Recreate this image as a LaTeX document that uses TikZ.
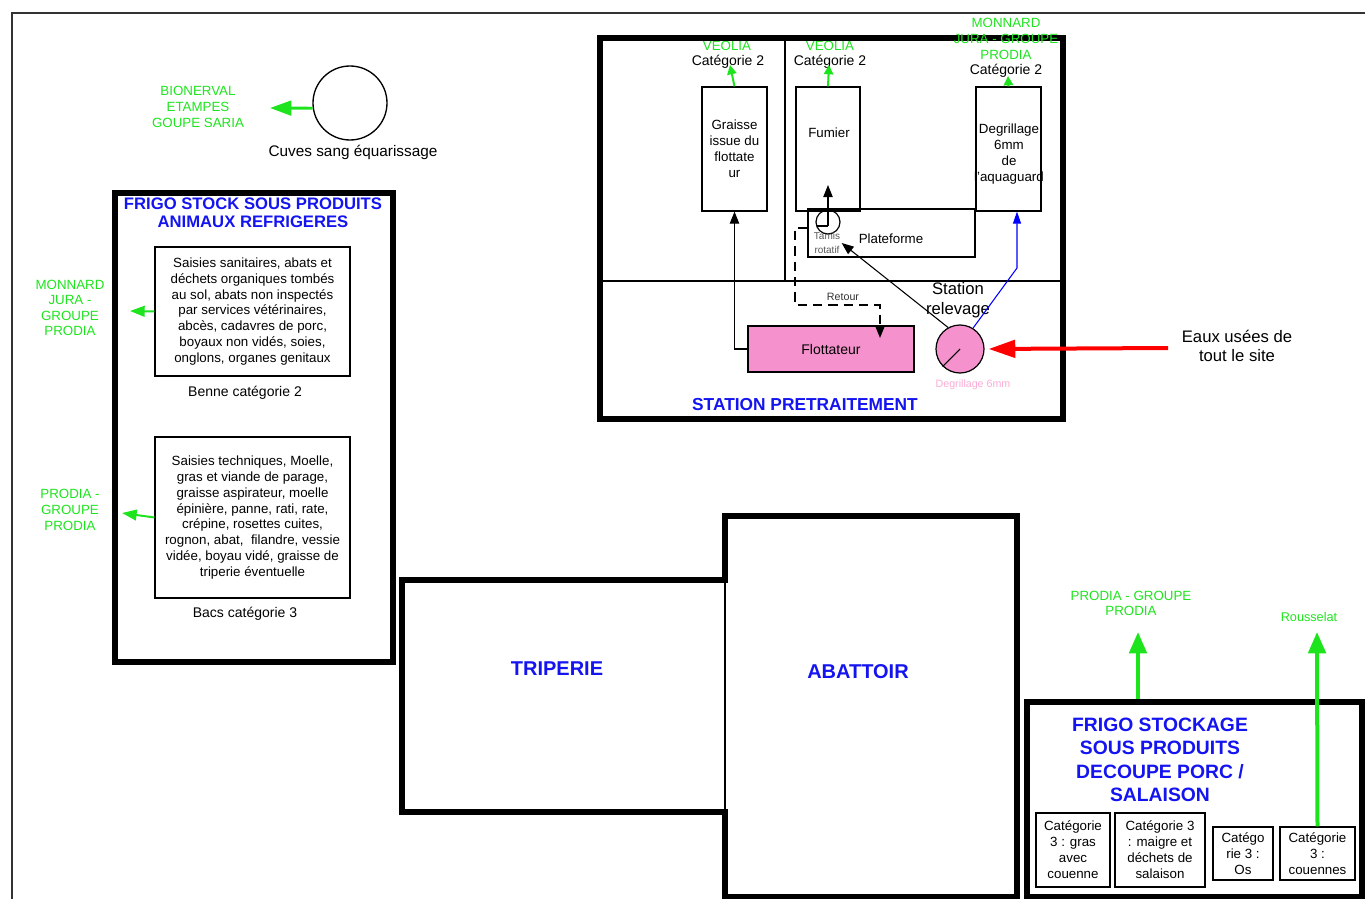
\documentclass[tikz,border=0pt]{standalone}
\usepackage{fontspec}
\setmainfont{Liberation Sans}
\usetikzlibrary{fit,arrows.meta}
\definecolor{grn}{RGB}{30,228,30}
\definecolor{pinkf}{RGB}{245,145,205}
\definecolor{pinkt}{RGB}{250,170,212}
\definecolor{ttl}{RGB}{20,20,240}
\begin{document}
\begin{tikzpicture}[x=0.75pt,y=-0.75pt,
  wall/.style={line width=3.8pt, line cap=rect, line join=miter},
  wallbox/.style={draw, line width=3.8pt, inner sep=0pt},
  tbox/.style={draw, line width=0.9pt, align=center, inner sep=1pt, font=\fontsize{10}{12}\selectfont},
  body/.style={draw, line width=0.9pt, align=center, inner sep=1pt, font=\fontsize{10}{11.85}\selectfont},
  txt/.style={align=center, inner sep=1pt, font=\fontsize{10}{12}\selectfont},
  ctxt/.style={align=center, inner sep=1pt, font=\fontsize{10.5}{12}\selectfont},
  gtxt/.style={text=grn, align=center, inner sep=1pt, font=\fontsize{10}{12}\selectfont},
  btitle/.style={text=ttl, align=center, inner sep=1pt},
  gthin/.style={draw=grn, line width=1.5pt, -{Triangle[length=7pt,width=7pt]}},
  gmid/.style={draw=grn, line width=1.5pt, -{Triangle[length=11pt,width=8pt]}},
  gbig/.style={draw=grn, line width=2.2pt, -{Triangle[length=16pt,width=11pt]}},
  gbig2/.style={draw=grn, line width=3pt, -{Triangle[length=16pt,width=13pt]}},
  barrow/.style={draw=black, line width=0.8pt, -{Triangle[length=9pt,width=7pt]}},
  bluearrow/.style={draw=blue, line width=0.8pt, -{Triangle[length=9pt,width=6pt]}},
  dasharrow/.style={draw=black, line width=1.1pt, dash pattern=on 7pt off 4.5pt, -{Triangle[length=9pt,width=7pt]}},
  redarrow/.style={draw=red, line width=3pt, -{Triangle[length=20pt,width=13pt]}}
]
\useasboundingbox (0,0) rectangle (1365,899);
% outer frame
\draw[line width=1.2pt, black!80] (1365,13) -- (12,13) -- (12,899);

% ---- Cuves sang
\node[circle, draw, line width=1pt, minimum size=55.5pt, inner sep=0] (cuve) at (350,103) {};
\node[font=\fontsize{11.5}{14}\selectfont, inner sep=1pt] (cuvet) at (353,152) {Cuves sang équarissage};
\node[gtxt] (bion) at (198,107) {BIONERVAL\\ETAMPES\\GOUPE SARIA};
\coordinate (btip) at (270,108);
\draw[gbig] (cuve.188) -- (btip);

% ---- Frigo stock sous produits
\node[wallbox, fit={(115,193)(393,662)}] (frigo) {};
\node[btitle, font=\bfseries\fontsize{12.5}{13.5}\selectfont] (frigot) at (253,213) {FRIGO STOCK SOUS PRODUITS\\ANIMAUX REFRIGERES};
\node[body, minimum width=146.25pt, minimum height=96.75pt] (benne) at (252.5,311.5)
  {Saisies sanitaires, abats et\\déchets organiques tombés\\au sol, abats non inspectés\\par services vétérinaires,\\abcès, cadavres de porc,\\boyaux non vidés, soies,\\onglons, organes genitaux};
\node[ctxt] (bennet) at (245,393) {Benne catégorie 2};
\node[body, minimum width=146.25pt, minimum height=120.75pt] (bacs) at (252.5,517.5)
  {Saisies techniques, Moelle,\\gras et viande de parage,\\graisse aspirateur, moelle\\épinière, panne, rati, rate,\\crépine, rosettes cuites,\\rognon, abat,\ \ filandre, vessie\\vidée, boyau vidé, graisse de\\triperie éventuelle};
\node[ctxt] (bacst) at (245,614) {Bacs catégorie 3};
\node[gtxt, font=\fontsize{10}{11.5}\selectfont] (mon1) at (70,308) {MONNARD\\JURA -\\GROUPE\\PRODIA};
\coordinate (m1tip) at (130,311);
\draw[gmid] (benne.west) -- (m1tip);
\node[gtxt] (prod1) at (70,510) {PRODIA -\\GROUPE\\PRODIA};
\coordinate (p1tip) at (122,513);
\draw[gmid] (bacs.west) -- (p1tip);

% ---- Station pretraitement
\node[gtxt] (veo1) at (727,46) {VEOLIA};
\node[gtxt] (veo2) at (830,46) {VEOLIA};
\node[wallbox, line width=4.3pt, fit={(600,38)(1063,419)}] (spt) {};
\draw[line width=0.9pt] (spt.west |- 0,281) -- (spt.east |- 0,281);
\draw[line width=0.9pt] (785,38) -- (785,281);
\node[ctxt] (cat1) at (728,62) {Catégorie 2};
\node[ctxt] (cat2) at (830,62) {Catégorie 2};
\node[gtxt] (mon2) at (1006,39) {MONNARD\\JURA - GROUPE\\PRODIA};
\node[ctxt] (cat3) at (1006,71) {Catégorie 2};

\node[tbox, minimum width=48.75pt, minimum height=93pt] (graisse) at (734.5,149) {Graisse\\issue du\\flottate\\ur};
\node[tbox, minimum width=48pt, minimum height=93pt] (fumier) at (828,149) {};
\node[txt] (fumiert) at (829,133) {Fumier};
\node[tbox, minimum width=48.75pt, minimum height=93pt] (degr) at (1008.5,149) {};
\node[txt] (degrt) at (1009,154) {Degrillage\\6mm\\de\\l'aquaguard};
\node[tbox, minimum width=125.25pt, minimum height=36pt] (plat) at (891.5,233) {};
\node[txt] (platt) at (891,239) {Plateforme};
\node[circle, draw, line width=0.9pt, minimum size=18pt, inner sep=0] (tamis) at (828,222) {};
\node[align=center, inner sep=1pt, text=black!65, font=\fontsize{7.5}{10.5}\selectfont] (tamist) at (827,243) {Tamis\\rotatif};
\coordinate (tamisc) at (828,226);
\coordinate (tamish) at (817,226);
\coordinate (fumin) at (828,185);
\draw[barrow] (tamisc) -- (fumin);
\draw[line width=0.8pt] (tamisc) -- (tamish);

\coordinate (g1tip) at (730,65);
\coordinate (g2tip) at (829,65);
\coordinate (g3tip) at (1008,76);
\draw[gthin] (graisse.north) -- (g1tip);
\draw[gthin] (fumier.north) -- (g2tip);
\draw[gthin] (degr.north) -- (g3tip);

\node[draw, line width=0.9pt, fill=pinkf, minimum width=124.5pt, minimum height=34.5pt, font=\fontsize{10.5}{12}\selectfont] (flot) at (831,349) {Flottateur};
\node[circle, draw, line width=0.9pt, fill=pinkf, minimum size=36pt, inner sep=0] (relev) at (960,349) {};
\draw[line width=0.8pt] (relev.225) -- (relev.center);
\node[align=center, inner sep=1pt, font=\fontsize{12.5}{15}\selectfont] (relevt) at (958,300) {Station\\relevage};
\node[inner sep=1pt, text=pinkt, font=\fontsize{8}{9}\selectfont] (dgt) at (973,385) {Degrillage 6mm};
\node[btitle, font=\bfseries\fontsize{13}{15}\selectfont] (sptt) at (805,405) {STATION PRETRAITEMENT};

\draw[barrow] (flot.west) -| (graisse.south);
\draw[barrow] (relev.119) -- (tamist.east);
\coordinate (bbend) at (1017,268);
\draw[bluearrow] (relev.58) -- (bbend) -- (bbend |- degr.south);
\coordinate (retend) at (880,338);
\draw[dasharrow] (plat.west |- 0,228) -- (795,228) -- (795,305) -- (880,305) -- (retend);
\node[inner sep=1pt, font=\fontsize{8}{9}\selectfont, text=black!80] (retour) at (843,297) {Retour};

\node[align=center, inner sep=1pt, font=\fontsize{12.5}{14.25}\selectfont] (eaux) at (1237,346) {Eaux usées de\\tout le site};
\coordinate (redstart) at (1168,348);
\draw[redarrow, shorten >=3pt] (redstart) -- (relev.east);

% ---- Triperie / Abattoir
\draw[wall] (725,580) -- (402,580) -- (402,812) -- (725,812);
\draw[wall] (725,580) -- (725,516) -- (1017,516) -- (1017,897) -- (725,897) -- (725,812);
\draw[line width=0.8pt] (725,580) -- (725,812);
\node[btitle, font=\bfseries\fontsize{15}{18}\selectfont] (trip) at (557,669) {TRIPERIE};
\node[btitle, font=\bfseries\fontsize{15}{18}\selectfont] (abat) at (858,672) {ABATTOIR};

% ---- Frigo stockage decoupe
\node[wallbox, fit={(1027,702)(1362,897)}] (fsp) {};
\node[btitle, font=\bfseries\fontsize{14.5}{17.6}\selectfont] (fspt) at (1160,760) {FRIGO STOCKAGE\\SOUS PRODUITS\\DECOUPE PORC /\\SALAISON};
\node[tbox, minimum width=55.5pt, minimum height=55.5pt] (c1) at (1073,850) {Catégorie\\3 : gras\\avec\\couenne};
\node[tbox, minimum width=67.5pt, minimum height=55.5pt] (c2) at (1160,850) {Catégorie 3\\: maigre et\\déchets de\\salaison};
\node[tbox, minimum width=45pt, minimum height=39.75pt] (c3) at (1243,853.5) {Catégo\\rie 3 :\\Os};
\node[tbox, minimum width=56.25pt, minimum height=39.75pt] (c4) at (1317.5,853.5) {Catégorie\\3 :\\couennes};
\node[gtxt, font=\fontsize{10}{11.25}\selectfont] (pg) at (1131,603) {PRODIA - GROUPE\\PRODIA};
\node[gtxt, font=\fontsize{9.5}{11}\selectfont] (rous) at (1309,617) {Rousselat};
\coordinate (pgtip) at (1138,632);
\coordinate (rtip) at (1317,632);
\draw[gbig2] (pgtip |- fsp.north) -- (pgtip);
\draw[gbig2] (c4.north) -- (rtip);
\end{tikzpicture}
\end{document}
